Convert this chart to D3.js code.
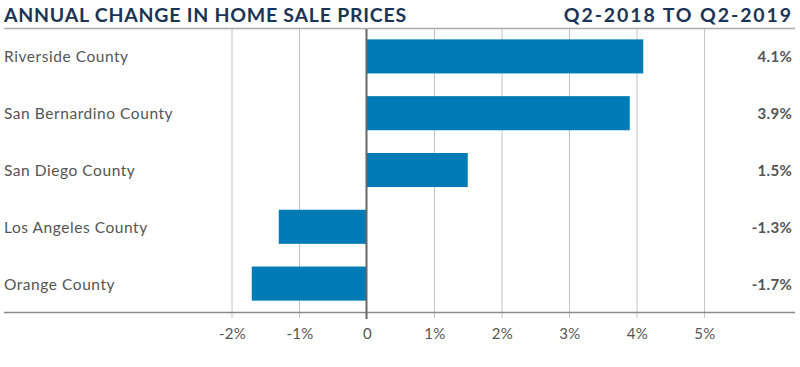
<!DOCTYPE html>
<html><head><meta charset="utf-8">
<script src="https://cdn.jsdelivr.net/npm/d3@7"></script>
<style>body{margin:0;background:#fff;}</style>
</head><body>
<svg id="c" width="800" height="367"></svg>
<script>
const categories = ["Riverside County","San Bernardino County","San Diego County","Los Angeles County","Orange County"];
const values = [4.1, 3.9, 1.5, -1.3, -1.7];
const valueLabels = ["4.1%","3.9%","1.5%","-1.3%","-1.7%"];
const ticks = [-2,-1,0,1,2,3,4,5];
const tickLabels = ["-2%","-1%","0","1%","2%","3%","4%","5%"];
const title = "ANNUAL CHANGE IN HOME SALE PRICES";
const subtitle = "Q2-2018 TO Q2-2019";

const svg = d3.select("#c");
const font = "Lato, 'Open Sans', sans-serif";
const x = d3.scaleLinear().domain([-2,5]).range([231.5,704]);
const y = d3.scaleBand().domain(categories).range([28,312]).paddingInner(0.4).paddingOuter(0.2);

svg.append("text").attr("x",4).attr("y",22).text(title)
  .attr("font-family","Lato, sans-serif").attr("font-weight",700).attr("font-size",19.5)
  .attr("fill","#1b3456").attr("letter-spacing",0.75);
svg.append("text").attr("x",793).attr("y",22).attr("text-anchor","end").text(subtitle)
  .attr("font-family","Lato, sans-serif").attr("font-weight",700).attr("font-size",19.5)
  .attr("fill","#1b3456").attr("letter-spacing",1.9);
svg.append("line").attr("x1",4).attr("x2",795).attr("y1",28.5).attr("y2",28.5)
  .attr("stroke","#aaaaaa").attr("stroke-width",1.5);

// gridlines
svg.append("g").selectAll("line").data(ticks.filter(d=>d!==0)).join("line")
  .attr("x1",d=>x(d)+0.5).attr("x2",d=>x(d)+0.5).attr("y1",29).attr("y2",318)
  .attr("stroke","#c4c4c4").attr("stroke-width",1);

// bars
svg.append("g").selectAll("rect").data(values).join("rect")
  .attr("x",(d)=>x(Math.min(0,d))).attr("width",d=>Math.abs(x(d)-x(0)))
  .attr("y",(d,i)=>y(categories[i])).attr("height",y.bandwidth())
  .attr("fill","#007bb6");

// axis line
svg.append("line").attr("x1",4).attr("x2",795).attr("y1",312.5).attr("y2",312.5)
  .attr("stroke","#8a8a8a").attr("stroke-width",1.5);
// zero line
svg.append("line").attr("x1",x(0)).attr("x2",x(0)).attr("y1",29).attr("y2",319)
  .attr("stroke","#666").attr("stroke-width",2);

// tick labels
svg.append("g").selectAll("text").data(ticks).join("text")
  .attr("x",d=>x(d)+1).attr("y",339).attr("text-anchor","middle")
  .text((d,i)=>tickLabels[i])
  .attr("font-family",font).attr("font-size",15).attr("fill","#555").attr("letter-spacing",0.3);

// category labels
svg.append("g").selectAll("text").data(categories).join("text")
  .attr("x",4).attr("y",d=>y(d)+y.bandwidth()/2+6).text(d=>d)
  .attr("font-family",font).attr("font-size",15.5).attr("fill","#555").attr("letter-spacing",0.55);

// value labels
svg.append("g").selectAll("text").data(valueLabels).join("text")
  .attr("x",792).attr("y",(d,i)=>y(categories[i])+y.bandwidth()/2+6).attr("text-anchor","end")
  .text(d=>d)
  .attr("font-family",font).attr("font-weight",700).attr("font-size",15).attr("fill","#555").attr("letter-spacing",0.3);
</script>
</body></html>
